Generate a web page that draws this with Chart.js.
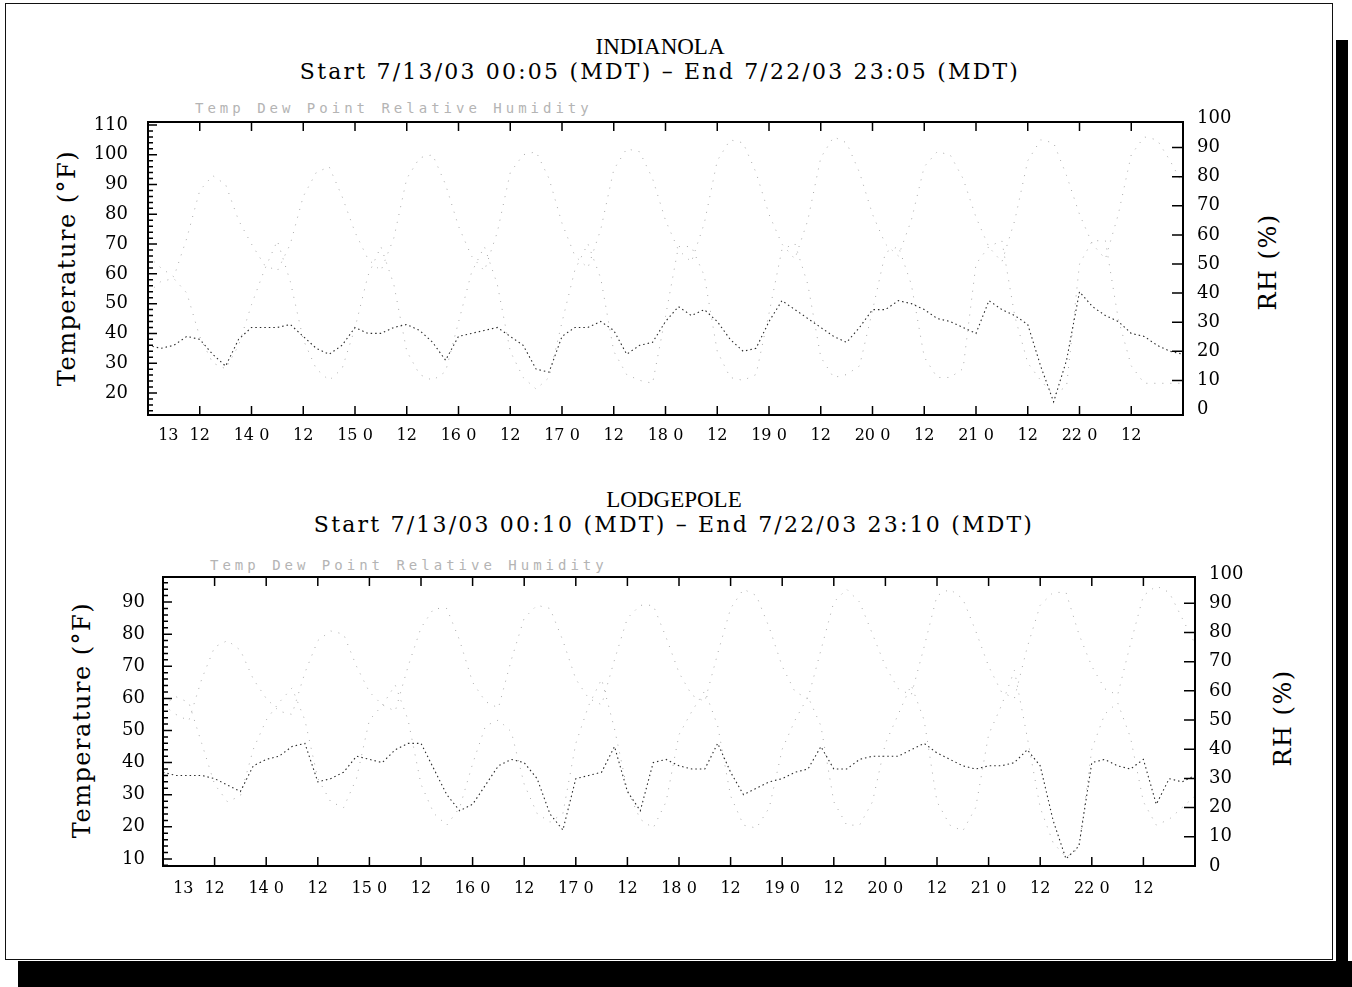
<!DOCTYPE html>
<html>
<head>
<meta charset="utf-8">
<title>Indianola / Lodgepole</title>
<script src="https://cdn.jsdelivr.net/npm/chart.js@4.4.1/dist/chart.umd.min.js"></script>
<style>
  body { margin: 0; width: 1352px; height: 987px; background: #fff; position: relative; overflow: hidden; font-family: 'DejaVu Serif', serif; color: #000; }
  .frame { position: absolute; left: 5px; top: 3px; width: 1328px; height: 957px; border: 1.5px solid #111; box-sizing: border-box; }
  .shadow-r { position: absolute; left: 1336px; top: 40px; width: 12px; height: 947px; background: #000; }
  .shadow-b { position: absolute; left: 18px; top: 961px; width: 1334px; height: 26px; background: #000; }
  .box { position: absolute; left: 0; width: 1352px; height: 470px; }
  .name { position: absolute; left: 0; text-align: center; font-family: 'Liberation Serif', serif; font-size: 23px; line-height: 28px; }
  .span { position: absolute; left: 0; text-align: center; font-family: 'DejaVu Serif', serif; font-size: 22px; line-height: 28px; letter-spacing: 2.2px; }
  .legend { position: absolute; font-family: 'DejaVu Sans Mono', monospace; font-size: 14px; line-height: 16px; letter-spacing: 4px; color: #b4b4b4; }
  .ytitle { position: absolute; transform: translate(-50%, -50%) rotate(-90deg); white-space: nowrap; font-family: 'DejaVu Serif', serif; font-size: 24px; letter-spacing: 1.5px; }
</style>
</head>
<body>
<div class="frame"></div>
<div class="shadow-r"></div>
<div class="shadow-b"></div>

<div class="name" style="top:33px;width:1320px">INDIANOLA</div>
<div class="span" style="top:58px;width:1320px">Start 7/13/03 00:05 (MDT) &ndash; End 7/22/03 23:05 (MDT)</div>
<div class="legend" style="left:195px;top:100px">Temp Dew Point Relative Humidity</div>
<div class="ytitle" style="left:67px;top:268px">Temperature (°F)</div>
<div class="ytitle" style="left:1268px;top:262px">RH (%)</div>
<div class="box" style="top:0"><canvas id="indianola"></canvas></div>

<div class="name" style="top:486px;width:1348px">LODGEPOLE</div>
<div class="span" style="top:511px;width:1348px">Start 7/13/03 00:10 (MDT) &ndash; End 7/22/03 23:10 (MDT)</div>
<div class="legend" style="left:210px;top:557px">Temp Dew Point Relative Humidity</div>
<div class="ytitle" style="left:82px;top:720px">Temperature (°F)</div>
<div class="ytitle" style="left:1283px;top:718px">RH (%)</div>
<div class="box" style="top:470px"><canvas id="lodgepole"></canvas></div>

<script>
// hours since 7/13 00:00
const hours = [0,3,6,9,12,15,18,21,24,27,30,33,36,39,42,45,48,51,54,57,60,63,66,69,72,75,78,81,84,87,90,93,96,99,102,105,108,111,114,117,120,123,126,129,132,135,138,141,144,147,150,153,156,159,162,165,168,171,174,177,180,183,186,189,192,195,198,201,204,207,210,213,216,219,222,225,228,231,234,237,240];

const xTickHours = [0,12,24,36,48,60,72,84,96,108,120,132,144,156,168,180,192,204,216,228];
const xTickLabels = ['13','12','14 0','12','15 0','12','16 0','12','17 0','12','18 0','12','19 0','12','20 0','12','21 0','12','22 0','12'];
const rhTicks = [0,10,20,30,40,50,60,70,80,90,100];
const indTempTicks = [20,30,40,50,60,70,80,90,100,110];
const lodTempTicks = [10,20,30,40,50,60,70,80,90];

// Indianola
const indTemp = [66,62,59,72,88,93,90,78, 70,63,61,70,86,94,96,86, 74,65,61,72,92,99,100,90, 76,66,61,74,94,100,101,92,
  77,66,62,75,95,102,101,92, 78,68,64,77,98,105,104,94, 80,70,65,78,99,106,104,94, 80,70,66,78,96,101,100,92,
  79,69,64,78,98,105,104,93, 80,70,65,80,100,106,105,98,90];
const indDew = [36,35,36,39,38,33,29,38, 42,42,42,43,39,35,33,36, 42,40,40,42,43,41,37,31, 39,40,41,42,39,36,28,27,
  39,42,42,44,41,33,36,37, 44,49,46,48,44,38,34,35, 44,51,48,45,42,39,37,42, 48,48,51,50,48,45,44,42,
  40,51,48,46,43,29,17,31, 54,49,46,44,40,39,36,34,33];
const indRh = [40,44,45,40,25,16,14,22, 36,48,58,44,24,14,10,14, 28,46,56,43,20,12,10,13, 30,47,56,43,20,11,7,11,
  30,48,57,45,20,12,10,9, 32,56,56,46,20,11,10,12, 33,55,57,43,18,11,12,15, 34,54,56,43,18,11,11,14,
  50,56,58,32,16,10,5,8, 50,58,58,31,15,9,9,9,9];

// Lodgepole
const lodTemp = [58,55,53,66,76,78,75,66, 60,56,55,68,78,81,80,70, 62,58,56,70,82,88,88,78, 65,59,57,72,85,89,88,78,
  66,60,58,72,85,89,89,79, 68,61,59,74,88,94,92,82, 70,62,60,75,90,94,90,80, 70,63,61,76,92,94,91,81,
  70,62,60,76,89,93,93,80, 70,63,61,77,92,95,93,85,77];
const lodDew = [37,36,36,36,35,33,31,39, 41,42,45,46,34,35,37,42, 41,40,44,46,46,38,30,25, 27,33,39,41,40,35,24,19,
  35,36,37,45,31,25,40,41, 39,38,38,46,37,30,32,34, 35,37,38,45,38,38,41,42, 42,42,44,46,43,41,39,38,
  39,39,40,44,39,22,10,14, 40,41,39,38,41,27,35,34,36];
const lodRh = [55,58,56,42,28,22,24,40, 50,56,61,50,30,22,20,30, 50,55,62,50,28,18,14,20, 35,48,50,46,28,18,15,18,
  42,55,64,47,26,16,13,22, 45,53,60,48,24,14,13,20, 40,50,58,48,22,14,14,22, 42,52,62,50,22,14,12,20,
  45,55,67,44,20,8,3,6, 40,52,56,44,22,14,16,20,24];

const pts = vals => vals.map((v, i) => ({ x: hours[i], y: v }));

// box round the plot plus the inward tick marks
const frameTicks = {
  id: 'frameTicks',
  afterDatasetsDraw(chart) {
    const { ctx, chartArea: a, scales: { x, y, yR } } = chart;
    ctx.save();
    ctx.strokeStyle = '#000';
    ctx.lineWidth = 2;
    ctx.strokeRect(a.left, a.top, a.right - a.left, a.bottom - a.top);
    ctx.lineWidth = 1.5;
    ctx.beginPath();
    xTickHours.forEach(h => {
      if (h === 0) return;
      const px = x.getPixelForValue(h);
      ctx.moveTo(px, a.top); ctx.lineTo(px, a.top + 9);
      ctx.moveTo(px, a.bottom); ctx.lineTo(px, a.bottom - 9);
    });
    for (let v = Math.ceil(y.min / 2) * 2; v < y.max; v += 2) {
      const py = y.getPixelForValue(v);
      ctx.moveTo(a.left, py); ctx.lineTo(a.left + (v % 10 === 0 ? 9 : 5), py);
    }
    rhTicks.forEach(v => {
      if (v <= 0 || v >= 100) return;
      const py = yR.getPixelForValue(v);
      ctx.moveTo(a.right, py); ctx.lineTo(a.right - 11, py);
    });
    ctx.stroke();
    ctx.restore();
  }
};

function makeChart(id, c) {
  new Chart(document.getElementById(id), {
    type: 'line',
    data: {
      datasets: [
        { label: 'Temp', data: pts(c.temp), yAxisID: 'y', borderColor: '#a8a8a8', borderWidth: 1, borderDash: [1, 7] },
        { label: 'Dew Point', data: pts(c.dew), yAxisID: 'y', borderColor: '#2a2a2a', borderWidth: 1.1, borderDash: [1.5, 3] },
        { label: 'Relative Humidity', data: pts(c.rh), yAxisID: 'yR', borderColor: '#a8a8a8', borderWidth: 1, borderDash: [1, 7] }
      ]
    },
    options: {
      responsive: true,
      maintainAspectRatio: false,
      animation: false,
      elements: { point: { radius: 0 }, line: { tension: 0 } },
      layout: { padding: { top: c.padTop, left: 0, right: 0, bottom: 0 } },
      plugins: { legend: { display: false }, tooltip: { enabled: false } },
      scales: {
        x: {
          type: 'linear', min: 0, max: 240,
          grid: { display: false }, border: { display: false },
          afterBuildTicks: s => { s.ticks = xTickHours.map(v => ({ value: v })); },
          afterFit: s => { s.height = c.xHeight; },
          ticks: {
            autoSkip: false, maxRotation: 0, padding: c.xPad, color: '#000',
            font: { family: 'DejaVu Serif', size: 16 },
            callback: (v, i) => i === 0 ? '\u2007\u2007\u2007\u2007' + xTickLabels[0] : xTickLabels[i]
          }
        },
        y: {
          position: 'left', min: c.tMin, max: c.tMax,
          grid: { display: false, drawTicks: false }, border: { display: false },
          afterBuildTicks: s => { s.ticks = c.tTicks.map(v => ({ value: v })); },
          afterFit: s => { s.width = c.leftW; },
          ticks: { autoSkip: false, padding: c.yPad, color: '#000', font: { family: 'DejaVu Serif', size: 18 } }
        },
        yR: {
          position: 'right', min: c.rMin, max: c.rMax,
          grid: { display: false, drawTicks: false }, border: { display: false },
          afterBuildTicks: s => { s.ticks = rhTicks.map(v => ({ value: v })); },
          afterFit: s => { s.width = c.rightW; },
          ticks: { autoSkip: false, padding: 14, color: '#000', font: { family: 'DejaVu Serif', size: 18 } }
        }
      }
    },
    plugins: [frameTicks]
  });
}

makeChart('indianola', {
  temp: indTemp, dew: indDew, rh: indRh,
  tMin: 12.6, tMax: 111, tTicks: indTempTicks, rMin: -1.9, rMax: 98.8,
  padTop: 122, xHeight: 55, leftW: 148, rightW: 169, yPad: 20, xPad: 3
});

makeChart('lodgepole', {
  temp: lodTemp, dew: lodDew, rh: lodRh,
  tMin: 7.8, tMax: 97.8, tTicks: lodTempTicks, rMin: 0, rMax: 99,
  padTop: 107, xHeight: 74, leftW: 163, rightW: 157, yPad: 18, xPad: 5
});
</script>
</body>
</html>
